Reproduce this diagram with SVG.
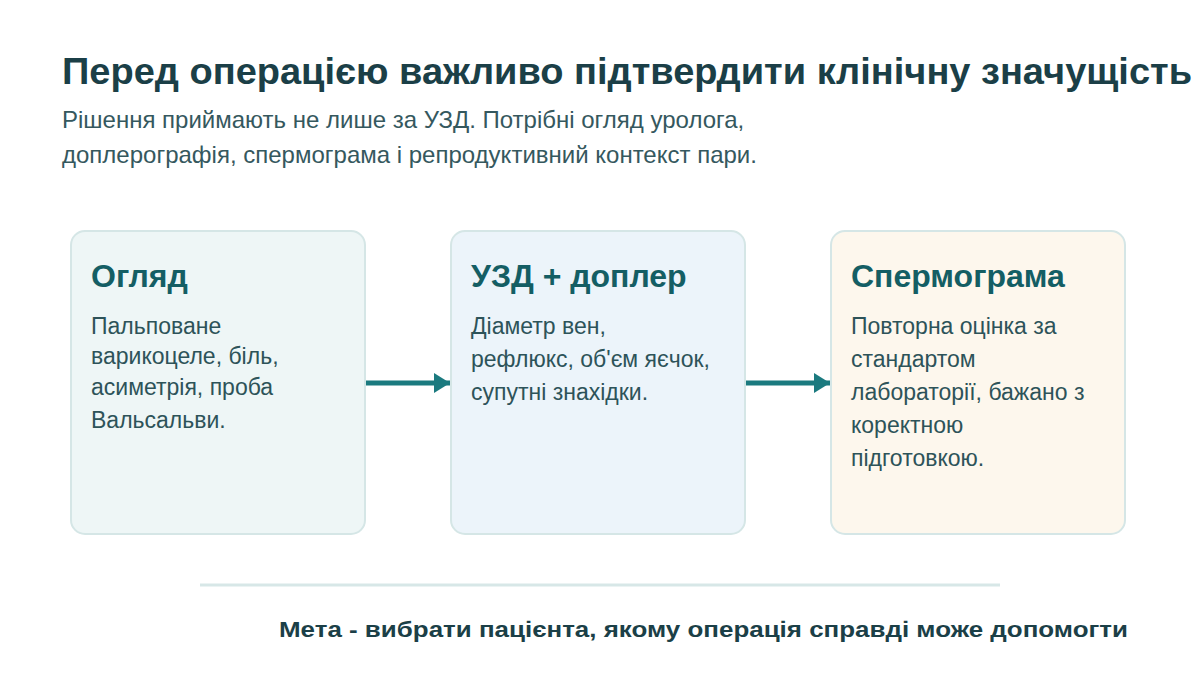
<svg xmlns="http://www.w3.org/2000/svg" width="1200" height="675" viewBox="0 0 1200 675">
<defs>
<style>
.title{font-family:"Liberation Sans",Arial,sans-serif;font-weight:bold;font-size:37px;fill:#1b3f47}
.sub{font-family:"Liberation Sans",Arial,sans-serif;font-size:24px;fill:#35585e}
.card{stroke:#d5e6e6;stroke-width:2}
.head{font-family:"Liberation Sans",Arial,sans-serif;font-weight:bold;font-size:32px;fill:#145e64}
.body{font-family:"Liberation Sans",Arial,sans-serif;font-size:23px;fill:#2d5359}
.conn{stroke:#1b7a7f;stroke-width:5;fill:none}
.foot{font-family:"Liberation Sans",Arial,sans-serif;font-weight:bold;font-size:22px;fill:#1b3f47}
</style>
<marker id="ah" markerWidth="16" markerHeight="20" refX="16" refY="10" orient="auto" markerUnits="userSpaceOnUse">
<path d="M0,0 L16,10 L0,20 Z" fill="#1b7a7f"/>
</marker>
</defs>
<rect width="1200" height="675" fill="#ffffff"/>
<g id="header">
<text class="title" x="62" y="84" textLength="1130" lengthAdjust="spacingAndGlyphs">Перед операцією важливо підтвердити клінічну значущість</text>
<text class="sub" x="62" y="128">Рішення приймають не лише за УЗД. Потрібні огляд уролога,</text>
<text class="sub" x="62" y="163">доплерографія, спермограма і репродуктивний контекст пари.</text>
</g>
<g id="connectors">
<line class="conn" x1="366" y1="383" x2="450" y2="383" marker-end="url(#ah)"/>
<line class="conn" x1="746" y1="383" x2="830" y2="383" marker-end="url(#ah)"/>
</g>
<g id="node-ogliad">
<rect class="card" x="71" y="231" width="294" height="303" rx="14" fill="#eef6f6"/>
<text class="head" x="91" y="287">Огляд</text>
<text class="body" x="91" y="334">Пальповане</text>
<text class="body" x="91" y="364">варикоцеле, біль,</text>
<text class="body" x="91" y="395">асиметрія, проба</text>
<text class="body" x="91" y="428">Вальсальви.</text>
</g>
<g id="node-uzd">
<rect class="card" x="451" y="231" width="294" height="303" rx="14" fill="#ecf4fa"/>
<text class="head" x="471" y="287">УЗД + доплер</text>
<text class="body" x="471" y="334">Діаметр вен,</text>
<text class="body" x="471" y="367">рефлюкс, об'єм яєчок,</text>
<text class="body" x="471" y="400">супутні знахідки.</text>
</g>
<g id="node-sperm">
<rect class="card" x="831" y="231" width="294" height="303" rx="14" fill="#fdf7ed"/>
<text class="head" x="851" y="287">Спермограма</text>
<text class="body" x="851" y="334">Повторна оцінка за</text>
<text class="body" x="851" y="367">стандартом</text>
<text class="body" x="851" y="400">лабораторії, бажано з</text>
<text class="body" x="851" y="433">коректною</text>
<text class="body" x="851" y="466">підготовкою.</text>
</g>
<g id="footer">
<line x1="200" y1="585" x2="1000" y2="585" stroke="#d7e7e7" stroke-width="3"/>
<text class="foot" x="1128" y="637" text-anchor="end" textLength="849" lengthAdjust="spacingAndGlyphs">Мета - вибрати пацієнта, якому операція справді може допомогти</text>
</g>
</svg>
